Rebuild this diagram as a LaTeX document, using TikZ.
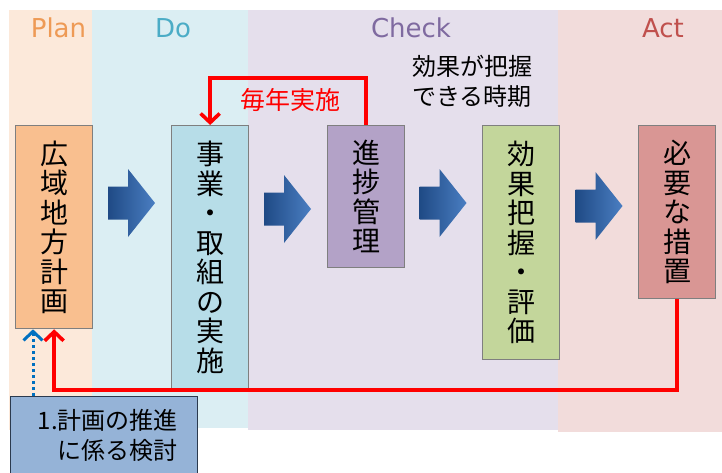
\documentclass[tikz,border=0pt]{standalone}
\usepackage{fontspec}
\setmainfont{Noto Sans CJK JP}
\newfontfamily\titlefont{DejaVu Sans}
\usetikzlibrary{arrows.meta}
\definecolor{planbg}{HTML}{FCE9DA}
\definecolor{dobg}{HTML}{DBEEF3}
\definecolor{checkbg}{HTML}{E5DFEC}
\definecolor{actbg}{HTML}{F2DCDB}
\definecolor{planfill}{HTML}{F9BF8F}
\definecolor{dofill}{HTML}{B7DDE8}
\definecolor{checkfill}{HTML}{B3A2C7}
\definecolor{evalfill}{HTML}{C3D69B}
\definecolor{actfill}{HTML}{D99694}
\definecolor{studyfill}{HTML}{95B3D7}
\definecolor{studyline}{HTML}{2B3A4E}
\definecolor{plantxt}{HTML}{EE9A55}
\definecolor{dotxt}{HTML}{4BACC6}
\definecolor{checktxt}{HTML}{7F6AA0}
\definecolor{acttxt}{HTML}{C0504D}
\definecolor{arrowdark}{HTML}{1F4A85}
\definecolor{arrowlight}{HTML}{4A7EC2}
\definecolor{loopred}{HTML}{FF0000}
\definecolor{dotblue}{HTML}{0070C0}
\definecolor{boxgray}{HTML}{7F7F7F}
\newcommand{\blockarrowat}[1]{%
  \shade[left color=arrowdark, right color=arrowlight]
    ($(#1)+(0,-16.5)$) -- ++(20,0) -- ++(0,-17.5) -- ($(#1)+(47,0)$)
    -- ($(#1)+(20,34)$) -- ++(0,-17.5) -- ($(#1)+(0,16.5)$) -- cycle;}
\usetikzlibrary{calc}
\begin{document}
\begin{tikzpicture}[x=1pt,y=-1pt,
  stepbox/.style={draw=boxgray, line width=1.3pt, inner sep=0pt, minimum width=77pt,
    anchor=north west, align=center, font=\fontsize{28}{29.5}\selectfont, text=black},
  phase/.style={anchor=base, font=\titlefont\fontsize{26}{30}\selectfont},
  loopline/.style={draw=loopred, line width=3.6pt, -{Straight Barb[length=9pt,width=19pt]}},
  dotline/.style={draw=dotblue, line width=3pt, dash pattern=on 2.6pt off 3.4pt, -{Straight Barb[length=9pt,width=19pt]}},
  note/.style={font=\fontsize{24}{30}\selectfont}
]
\clip (0,0) rectangle (722,472);
\fill[white] (0,0) rectangle (722,472);
% phase bands
\fill[planbg] (9,10) rectangle (92,430);
\fill[dobg] (92,10) rectangle (248,428);
\fill[checkbg] (248,10) rectangle (558,430);
\fill[actbg] (558,10) rectangle (722,432);
% phase titles
\node[phase, text=plantxt] (tplan) at (58.5,37) {Plan};
\node[phase, text=dotxt] (tdo) at (173,37) {Do};
\node[phase, text=checktxt] (tcheck) at (411,37) {Check};
\node[phase, text=acttxt] (tact) at (663,37) {Act};
% step boxes
\node[stepbox, fill=planfill, minimum height=203pt] (plan) at (15,125) {広\\域\\地\\方\\計\\画};
\node[stepbox, fill=dofill, minimum height=263pt] (jigyo) at (171,125) {事\\業\\・\\取\\組\\の\\実\\施};
\node[stepbox, fill=checkfill, minimum height=142pt] (prog) at (327,125) {進\\捗\\管\\理};
\node[stepbox, fill=evalfill, minimum height=234pt] (eval) at (482,125) {効\\果\\把\\握\\・\\評\\価};
\node[stepbox, fill=actfill, minimum height=173pt] (act) at (638,125) {必\\要\\な\\措\\置};
% block arrows
\coordinate (a1) at (108,203);
\coordinate (a2) at (264,209);
\coordinate (a3) at (419.5,203);
\coordinate (a4) at (575.5,206);
\blockarrowat{a1}
\blockarrowat{a2}
\blockarrowat{a3}
\blockarrowat{a4}
% annual loop
\draw[loopline] (prog.north) -- ++(0,-47) -| (jigyo.north);
\node[font=\fontsize{25}{30}\selectfont, text=loopred] (annual) at (290,100) {毎年実施};
% timing note
\node[note, anchor=west, align=left, inner sep=0pt] (timing) at (412,81) {効果が把握\\できる時期};
% return loop
\coordinate (rl) at (0,390);
\draw[loopline] (act.south) -- (act.south |- rl) -| (plan.south);
% study box
\node[draw=studyline, line width=1.3pt, fill=studyfill, anchor=north west, minimum width=187pt, minimum height=90pt, inner sep=0pt] (study) at (10,396) {};
\node[note, anchor=east, align=right, inner sep=0pt] (studytxt) at (178,435) {1.計画の推進\\に係る検討};
\coordinate (bd) at (33,396);
\draw[dotline] (bd) -- (bd |- plan.south);
\end{tikzpicture}
\end{document}
